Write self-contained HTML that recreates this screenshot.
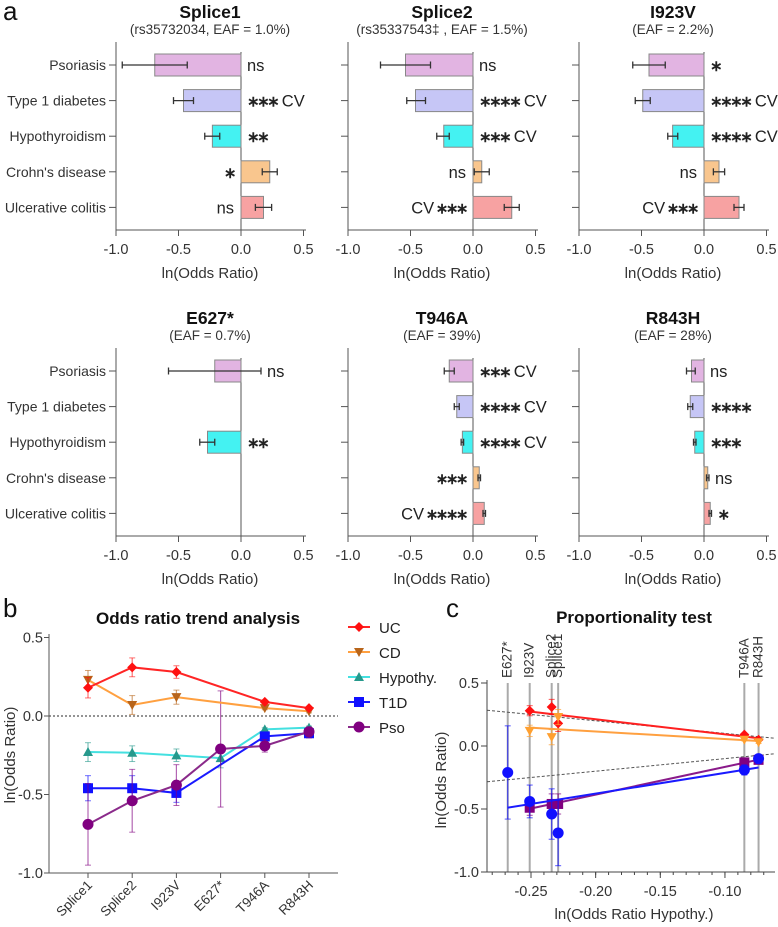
<!DOCTYPE html>
<html><head><meta charset="utf-8"><style>
html,body{margin:0;padding:0;background:#fff;}
svg{display:block;font-family:"Liberation Sans",Arial,sans-serif;}
</style></head><body>
<svg id="fig" width="778" height="927" viewBox="0 0 778 927" xmlns="http://www.w3.org/2000/svg"></svg>
<script>
// ---------- data ----------
const variants = ['Splice1','Splice2','I923V','E627*','T946A','R843H'];
const subtitles = ['(rs35732034, EAF = 1.0%)','(rs35337543\u2021 , EAF = 1.5%)','(EAF = 2.2%)','(EAF = 0.7%)','(EAF = 39%)','(EAF = 28%)'];
const diseases = ['Psoriasis','Type 1 diabetes','Hypothyroidism',"Crohn's disease",'Ulcerative colitis'];
const pso   = [-0.69,-0.54,-0.44,-0.21,-0.19,-0.10];
const psoLo = [-0.95,-0.74,-0.57,-0.58,-0.23,-0.14];
const psoHi = [-0.43,-0.34,-0.31, 0.16,-0.15,-0.07];
const t1d   = [-0.46,-0.46,-0.49,null,-0.13,-0.11];
const t1dLo = [-0.54,-0.53,-0.55,null,-0.15,-0.13];
const t1dHi = [-0.38,-0.38,-0.43,null,-0.11,-0.09];
const hypo   = [-0.229,-0.234,-0.251,-0.268,-0.085,-0.074];
const hypoLo = [-0.29,-0.29,-0.29,-0.33,-0.095,-0.084];
const hypoHi = [-0.17,-0.19,-0.21,-0.21,-0.075,-0.064];
const cd   = [0.23,0.07,0.12,null,0.05,0.03];
const cdLo = [0.17,0.01,0.075,null,0.04,0.02];
const cdHi = [0.29,0.13,0.165,null,0.06,0.04];
const uc   = [0.18,0.31,0.28,null,0.09,0.05];
const ucLo = [0.115,0.25,0.24,null,0.08,0.04];
const ucHi = [0.245,0.37,0.32,null,0.10,0.06];
const annText = [
 ['ns','*** CV','**','*','ns'],
 ['ns','**** CV','*** CV','ns','CV ***'],
 ['*','**** CV','**** CV','ns','CV ***'],
 ['ns','','**','',''],
 ['*** CV','**** CV','**** CV','***','CV ****'],
 ['ns','****','***','ns','*']];
const annSide = [
 ['R','R','R','L','L'],
 ['R','R','R','L','L'],
 ['R','R','R','L','L'],
 ['R','R','R','R','R'],
 ['R','R','R','L','L'],
 ['R','R','R','R','R']];
const axisTicksA = [-1.0,-0.5,0.0,0.5];
const tickLabelsA = ['-1.0','-0.5','0.0','0.5'];
const ticksB = [0.5,0.0,-0.5,-1.0];
const tickLabelsB = ['0.5','0.0','-0.5','-1.0'];
const ticksCx = [-0.25,-0.20,-0.15,-0.10];
const tickLabelsCx = ['-0.25','-0.20','-0.15','-0.10'];

// ---------- helpers ----------
const NS='http://www.w3.org/2000/svg';
const svg=document.getElementById('fig');
function el(tag,attrs,parent,txt){const e=document.createElementNS(NS,tag);for(const k in attrs)e.setAttribute(k,attrs[k]);if(txt!==undefined)e.textContent=txt;(parent||svg).appendChild(e);return e;}
function grp(name,parent){const g=el('g',{},parent);return g;}
function addAnn(parent,x,y,txt,anchor){
  const t=el('text',{x:x,y:y,'text-anchor':anchor,'font-size':16.5,fill:'#222'},parent);
  const parts=txt.split(' ');
  parts.forEach((p,k)=>{
    const sp=el('tspan',{},t,(k>0?' ':'')+(p.includes('*')?p.replace(/\*/g,'\u2217'):p));
    if(p.includes('*')){sp.setAttribute('font-weight','bold');sp.setAttribute('letter-spacing','-2.5');sp.setAttribute('font-size','15');}
  });
  return t;
}

const barFill=['#e2b4e2','#c6c6f6','#44f2f2','#f9c68e','#f7a2a2'];
const vals=[[pso,psoLo,psoHi],[t1d,t1dLo,t1dHi],[hypo,hypoLo,hypoHi],[cd,cdLo,cdHi],[uc,ucLo,ucHi]];

// ---------- panel a ----------
const la=el('text',{x:3,y:20,'font-size':26,fill:'#111'},svg,'a');


const origins=[[116,0],[348,0],[579,0],[116,306],[348,306],[579,306]];
variants.forEach((v,i)=>{
  const [ox,oy]=origins[i];
  const g=grp('forest-panel-'+v.replace('*','star').toLowerCase());
  const S=125, zero=ox+S;
  const xa=val=>ox+(val+1)*S;
  const t=el('text',{x:ox+94,y:oy+18,'text-anchor':'middle','font-size':17.5,'font-weight':'bold',fill:'#111'},g,v);
  
  const st=el('text',{x:ox+94,y:oy+34,'text-anchor':'middle','font-size':13.5,fill:'#333'},g,subtitles[i]);
  
  el('line',{x1:ox,y1:oy+42,x2:ox,y2:oy+230,stroke:'#555','stroke-width':1},g);
  el('line',{x1:ox,y1:oy+230,x2:ox+190,y2:oy+230,stroke:'#555','stroke-width':1},g);
  el('line',{x1:zero,y1:oy+52,x2:zero,y2:oy+230,stroke:'#555','stroke-width':1},g);
  axisTicksA.forEach((tv,k)=>{
    el('line',{x1:xa(tv),y1:oy+230,x2:xa(tv),y2:oy+236,stroke:'#555'},g);
    const tl=el('text',{x:xa(tv),y:oy+254,'text-anchor':'middle','font-size':14.5,fill:'#333'},g,tickLabelsA[k]);
    
  });
  const at=el('text',{x:zero-31,y:oy+278,'text-anchor':'middle','font-size':15,fill:'#333'},g,'ln(Odds Ratio)');
  
  diseases.forEach((d,k)=>{
    const cy=oy+65+35.6*k;
    el('line',{x1:ox-7,y1:cy,x2:ox,y2:cy,stroke:'#555'},g);
    if(i%3===0){
      const rl=el('text',{x:ox-10,y:cy+5,'text-anchor':'end','font-size':14,fill:'#333'},g,d);
      
    }
    const [a,lo,hi]=vals[k];
    const val=a[i];
    if(val!==null){
      const x0=Math.min(xa(val),zero),w=Math.abs(xa(val)-zero);
      const b=el('rect',{x:x0,y:cy-11,width:w,height:22,fill:barFill[k],stroke:'#888','stroke-width':1},g);
      
      el('line',{x1:xa(lo[i]),y1:cy,x2:xa(hi[i]),y2:cy,stroke:'#333','stroke-width':1.3},g);
      el('line',{x1:xa(lo[i]),y1:cy-3.5,x2:xa(lo[i]),y2:cy+3.5,stroke:'#333','stroke-width':1.3},g);
      el('line',{x1:xa(hi[i]),y1:cy-3.5,x2:xa(hi[i]),y2:cy+3.5,stroke:'#333','stroke-width':1.3},g);
    }
    const txt=annText[i][k];
    if(txt){
      let an;
      if(annSide[i][k]==='R'){
        const ex=val===null?zero:Math.max(zero,xa(hi[i]));
        an=addAnn(g,ex+6,cy+6,txt,'start');
      }else{
        const ex=Math.min(zero,xa(lo[i]));
        an=addAnn(g,ex-7,cy+6,txt,'end');
      }
      
    }
  });
});

// ---------- panel b ----------
const gb=grp('trend-chart');
const lb=el('text',{x:3,y:617,'font-size':26,fill:'#111'},gb,'b');

const xb=i=>88+i*44.2, yb=v=>716-v*157;
const tb=el('text',{x:198,y:624,'text-anchor':'middle','font-size':17,'font-weight':'bold',fill:'#111'},gb,'Odds ratio trend analysis');

el('line',{x1:49,y1:634,x2:49,y2:873,stroke:'#555'},gb);
el('line',{x1:49,y1:873,x2:338,y2:873,stroke:'#555'},gb);
el('line',{x1:49,y1:yb(0),x2:338,y2:yb(0),stroke:'#555','stroke-dasharray':'2,2','stroke-width':1.2},gb);
ticksB.forEach((tv,k)=>{
  el('line',{x1:44,y1:yb(tv),x2:49,y2:yb(tv),stroke:'#555'},gb);
  const tl=el('text',{x:43,y:yb(tv)+5,'text-anchor':'end','font-size':14.5,fill:'#333'},gb,tickLabelsB[k]);
  
});
const ytb=el('text',{x:0,y:0,'text-anchor':'middle','font-size':15,fill:'#333',transform:'translate(15,755) rotate(-90)'},gb,'ln(Odds Ratio)');

variants.forEach((v,i)=>{
  el('line',{x1:xb(i),y1:873,x2:xb(i),y2:878,stroke:'#555'},gb);
  const xl=el('text',{x:0,y:0,'text-anchor':'end','font-size':13.5,fill:'#333',transform:`translate(${xb(i)+5},${886}) rotate(-45)`},gb,v);
  
});
function marker(parent,shape,x,y,fill,r){
  if(shape==='circle')return el('circle',{cx:x,cy:y,r:r||5,fill},parent);
  if(shape==='square')return el('rect',{x:x-5,y:y-5,width:10,height:10,fill},parent);
  if(shape==='diamond')return el('polygon',{points:`${x},${y-5} ${x+5},${y} ${x},${y+5} ${x-5},${y}`,fill},parent);
  if(shape==='tri')return el('polygon',{points:`${x-5},${y-4} ${x+5},${y-4} ${x},${y+5}`,fill},parent);
  if(shape==='triup')return el('polygon',{points:`${x-5},${y+4} ${x+5},${y+4} ${x},${y-5}`,fill},parent);
}
const seriesB=[
 {name:'Hypothy.',d:hypo,lo:hypoLo,hi:hypoHi,line:'#44e0e0',mk:'#26998c',shape:'triup'},
 {name:'T1D',d:t1d,lo:t1dLo,hi:t1dHi,line:'#1a1aff',mk:'#1010ff',shape:'square'},
 {name:'Pso',d:pso,lo:psoLo,hi:psoHi,line:'#8a2a8a',mk:'#800080',shape:'circle'},
 {name:'CD',d:cd,lo:cdLo,hi:cdHi,line:'#ffa040',mk:'#b8651b',shape:'tri'},
 {name:'UC',d:uc,lo:ucLo,hi:ucHi,line:'#ff2525',mk:'#ff1010',shape:'diamond'}];
seriesB.forEach(s=>{
  const g=grp('series-'+s.name.toLowerCase().replace('.',''),gb);
  const pts=[];
  s.d.forEach((v,i)=>{if(v!==null)pts.push([xb(i),yb(v)]);});
  el('polyline',{points:pts.map(p=>p.join(',')).join(' '),fill:'none',stroke:s.line,'stroke-width':2},g);
  s.d.forEach((v,i)=>{
    if(v===null)return;
    const x=xb(i);
    el('line',{x1:x,y1:yb(s.lo[i]),x2:x,y2:yb(s.hi[i]),stroke:s.mk,'stroke-opacity':0.6,'stroke-width':1.2},g);
    el('line',{x1:x-3,y1:yb(s.lo[i]),x2:x+3,y2:yb(s.lo[i]),stroke:s.mk,'stroke-opacity':0.6},g);
    el('line',{x1:x-3,y1:yb(s.hi[i]),x2:x+3,y2:yb(s.hi[i]),stroke:s.mk,'stroke-opacity':0.6},g);
    const m=marker(g,s.shape,x,yb(v),s.mk,5.5);
    
  });
});
const legendOrder=[4,3,0,1,2];
legendOrder.forEach((si,k)=>{
  const s=seriesB[si];const y=627+25*k;
  const g=grp('legend-entry',svg);
  el('line',{x1:348,y1:y,x2:370,y2:y,stroke:s.line,'stroke-width':2},g);
  marker(g,s.shape,359,y,s.mk,5.5);
  el('text',{x:379,y:y+6,'font-size':15,fill:'#222'},g,s.name);
});

// ---------- panel c ----------
const gc=grp('proportionality-chart');
const lc=el('text',{x:446,y:617,'font-size':26,fill:'#111'},gc,'c');

const tc=el('text',{x:634,y:623,'text-anchor':'middle','font-size':17,'font-weight':'bold',fill:'#111'},gc,'Proportionality test');

const X0=-0.284,X1=-0.061;
const xc=v=>531+(v+0.25)*1293, yc=v=>746-v*126;
variants.forEach((v,i)=>{
  const x=xc(hypo[i]);
  el('line',{x1:x,y1:683,x2:x,y2:872,stroke:'#aaa','stroke-width':2},gc);
  const vl=el('text',{x:0,y:0,'font-size':13.5,fill:'#333',transform:`translate(${x+4},${678}) rotate(-90)`},gc,v);
  
});
el('line',{x1:xc(X0),y1:yc(-X0),x2:xc(X1),y2:yc(-X1),stroke:'#555','stroke-dasharray':'3,2'},gc);
el('line',{x1:xc(X0),y1:yc(X0),x2:xc(X1),y2:yc(X1),stroke:'#555','stroke-dasharray':'3,2'},gc);
el('line',{x1:487,y1:680,x2:487,y2:872,stroke:'#444'},gc);
el('line',{x1:487,y1:872,x2:775,y2:872,stroke:'#444'},gc);
[0.5,0,-0.5,-1].forEach((tv,k)=>{
  el('line',{x1:481,y1:yc(tv),x2:487,y2:yc(tv),stroke:'#444'},gc);
  const tl=el('text',{x:479,y:yc(tv)+5,'text-anchor':'end','font-size':14.5,fill:'#333'},gc,tickLabelsB[k]);
  
});
for(let m=-28;m<=-7;m++){const x=xc(m/100);el('line',{x1:x,y1:872,x2:x,y2:875,stroke:'#444'},gc);}
ticksCx.forEach((tv,k)=>{
  el('line',{x1:xc(tv),y1:872,x2:xc(tv),y2:878,stroke:'#444'},gc);
  const tl=el('text',{x:xc(tv),y:896,'text-anchor':'middle','font-size':14.5,fill:'#333'},gc,tickLabelsCx[k]);
  
});
const xtc=el('text',{x:634,y:919,'text-anchor':'middle','font-size':15,fill:'#333'},gc,'ln(Odds Ratio Hypothy.)');

const ytc=el('text',{x:0,y:0,'text-anchor':'middle','font-size':15,fill:'#333',transform:'translate(446,780) rotate(-90)'},gc,'ln(Odds Ratio)');

const seriesC=[
 {name:'uc',d:uc,lo:ucLo,hi:ucHi,col:'#ff2020',mk:'#ff1010',shape:'diamond'},
 {name:'cd',d:cd,lo:cdLo,hi:cdHi,col:'#ffa040',mk:'#ffa030',shape:'tri'},
 {name:'t1d',d:t1d,lo:t1dLo,hi:t1dHi,col:'#8a1a8a',mk:'#800080',shape:'square'},
 {name:'pso',d:pso,lo:psoLo,hi:psoHi,col:'#1a1aff',mk:'#1010ff',shape:'circle'}];
seriesC.forEach(s=>{
  const g=grp('fit-series-'+s.name,gc);
  const xs=[],ys=[];
  s.d.forEach((v,i)=>{if(v!==null){xs.push(hypo[i]);ys.push(v);}});
  const n=xs.length,mx=xs.reduce((a,b)=>a+b)/n,my=ys.reduce((a,b)=>a+b)/n;
  let sxy=0,sxx=0;xs.forEach((x,k)=>{sxy+=(x-mx)*(ys[k]-my);sxx+=(x-mx)*(x-mx);});
  const sl=sxy/sxx,ic=my-sl*mx,xa0=Math.min(...xs),xa1=Math.max(...xs);
  el('line',{x1:xc(xa0),y1:yc(ic+sl*xa0),x2:xc(xa1),y2:yc(ic+sl*xa1),stroke:s.col,'stroke-width':2},g);
  s.d.forEach((v,i)=>{
    if(v===null)return;const x=xc(hypo[i]);
    el('line',{x1:x,y1:yc(s.lo[i]),x2:x,y2:yc(s.hi[i]),stroke:s.mk,'stroke-opacity':0.7,'stroke-width':1.2},g);
    el('line',{x1:x-3,y1:yc(s.lo[i]),x2:x+3,y2:yc(s.lo[i]),stroke:s.mk,'stroke-opacity':0.7},g);
    el('line',{x1:x-3,y1:yc(s.hi[i]),x2:x+3,y2:yc(s.hi[i]),stroke:s.mk,'stroke-opacity':0.7},g);
    const m=marker(g,s.shape,x,yc(v),s.mk,s.shape==='circle'?5.5:5);
    
  });
});
</script>
</body></html>
